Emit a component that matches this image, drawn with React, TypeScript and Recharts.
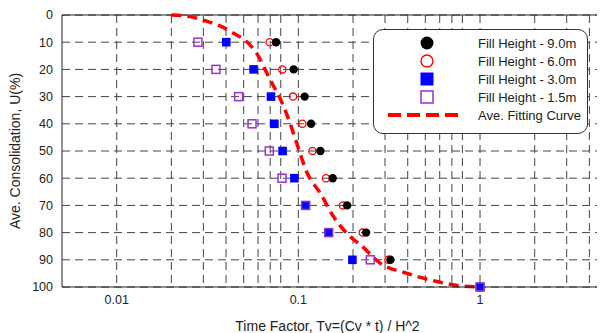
import React from "react";
import {
  ComposedChart,
  Line,
  Scatter,
  XAxis,
  YAxis,
  CartesianGrid,
  ReferenceLine,
  Legend,
} from "recharts";

const FONT = "'Liberation Sans', Arial, sans-serif";

// consolidation levels, U(%)
const uLevels = [10, 20, 30, 40, 50, 60, 70, 80, 90, 100];

// Tv read for each level, per fill height
const tv90 = [0.0754, 0.0942, 0.1083, 0.1175, 0.1322, 0.1545, 0.1855, 0.236, 0.321, 1.0];
const tv60 = [0.0695, 0.0816, 0.0935, 0.1052, 0.1195, 0.142, 0.176, 0.226, 0.313, 1.0];
const tv30 = [0.0401, 0.0567, 0.0707, 0.0738, 0.0819, 0.0951, 0.1097, 0.1469, 0.1984, 1.0];
const tv15 = [0.028, 0.0352, 0.0469, 0.0556, 0.0692, 0.0813, 0.1097, 0.1469, 0.249, 1.0];

// average fitting curve
const curveTv = [0.02, 0.0254, 0.031, 0.037, 0.044, 0.052, 0.059, 0.07, 0.08, 0.09, 0.098, 0.112, 0.132, 0.156, 0.193, 0.22, 0.283, 0.397, 0.58, 0.78, 1.0];
const curveU = [0, 0.6, 2.2, 4, 6.7, 9.8, 14.1, 23.9, 31.2, 39.8, 47.2, 58.2, 65.5, 74.1, 81.5, 84.5, 91.3, 95, 98, 99.6, 100];

const xTicks = [
  0.01, 0.02, 0.03, 0.04, 0.05, 0.06, 0.07, 0.08, 0.09,
  0.1, 0.2, 0.3, 0.4, 0.5, 0.6, 0.7, 0.8, 0.9,
  1, 2, 3, 4,
];
const xLabels = [0.01, 0.1, 1];
const yTicks = [0, 10, 20, 30, 40, 50, 60, 70, 80, 90, 100];

const toPoints = (tv: number[]) => tv.map((t, i) => ({ tv: t, u: uLevels[i] }));
const curve = curveTv.map((t, i) => ({ tv: t, u: curveU[i] }));

const PURPLE = "#9b2fd0";

const BlackDot = (p: any) => <circle cx={p.cx} cy={p.cy} r={4.2} fill="#000" />;
const RedRing = (p: any) => (
  <circle cx={p.cx} cy={p.cy} r={3.6} fill="none" stroke="#ff0000" strokeWidth={1.3} />
);
const BlueSquare = (p: any) => (
  <rect x={p.cx - 4.3} y={p.cy - 4.3} width={8.6} height={8.6} fill="#0000ff" />
);
const PurpleSquare = (p: any) => (
  <rect x={p.cx - 4} y={p.cy - 4} width={8} height={8} fill="none" stroke={PURPLE} strokeWidth={1.5} />
);

const legendRows = [
  { label: "Fill Height - 9.0m", kind: "black" },
  { label: "Fill Height - 6.0m", kind: "red" },
  { label: "Fill Height - 3.0m", kind: "blue" },
  { label: "Fill Height - 1.5m", kind: "purple" },
  { label: "Ave. Fitting Curve", kind: "line" },
];

const marker = (kind: string) => {
  if (kind === "black") return <circle cx={53} cy={9} r={6.5} fill="#000" />;
  if (kind === "red") return <circle cx={53} cy={9} r={6} fill="#fff" stroke="#ff0000" strokeWidth={1.4} />;
  if (kind === "blue") return <rect x={46.5} y={2.5} width={13} height={13} fill="#0000ff" />;
  if (kind === "purple")
    return <rect x={47} y={3} width={12} height={12} fill="#fff" stroke={PURPLE} strokeWidth={1.5} />;
  return <line x1={14} y1={9} x2={86} y2={9} stroke="#ff0000" strokeWidth={4} strokeDasharray="13 6" />;
};

const LegendBox = () => (
  <div
    style={{
      width: 213,
      height: 99,
      border: "1px solid #333",
      borderRadius: 10,
      background: "#fff",
      paddingTop: 4,
      boxSizing: "content-box",
      fontFamily: FONT,
      fontSize: 13,
      color: "#222",
    }}
  >
    {legendRows.map((r) => (
      <div key={r.label} style={{ display: "flex", alignItems: "center", height: 18 }}>
        <svg width={104} height={18}>{marker(r.kind)}</svg>
        <span>{r.label}</span>
      </div>
    ))}
  </div>
);

export default function App() {
  return (
    <div style={{ margin: "-8px 0 0 -8px", width: 605, height: 333, overflow: "hidden" }}>
      <ComposedChart
        width={617}
        height={333}
        margin={{ top: 15, right: 10, bottom: 0, left: 0 }}
        style={{ fontFamily: FONT }}
      >
        <CartesianGrid
          stroke="#444"
          strokeDasharray="8 5"
          horizontalValues={yTicks}
          verticalValues={xTicks}
        />
        <XAxis
          dataKey="tv"
          type="number"
          scale="log"
          domain={[0.005, 5]}
          ticks={xTicks}
          allowDataOverflow
          tickFormatter={(v: number) => (xLabels.includes(v) ? String(v) : "")}
          tickLine={false}
          tick={{ fill: "#222", fontSize: 12.5 }}
          axisLine={{ stroke: "#222" }}
          height={46}
          label={{
            value: "Time Factor, Tv=(Cv * t) / H^2",
            position: "insideBottom",
            offset: 2,
            dx: -7,
            fill: "#222",
            fontSize: 14,
          }}
        />
        <YAxis
          dataKey="u"
          type="number"
          domain={[0, 100]}
          reversed
          ticks={yTicks}
          tickLine={false}
          tickSize={7}
          tick={{ fill: "#222", fontSize: 12.5 }}
          axisLine={{ stroke: "#222" }}
          width={62}
          label={{
            value: "Ave. Consolidation, U(%)",
            angle: -90,
            position: "center",
            dx: -16,
            fill: "#222",
            fontSize: 14,
          }}
        />
        <ReferenceLine y={0} stroke="#222" />
        <Line
          data={curve}
          dataKey="u"
          type="monotone"
          stroke="#ff0000"
          strokeWidth={3.5}
          strokeDasharray="10 6"
          dot={false}
          isAnimationActive={false}
        />
        <Scatter data={toPoints(tv60)} shape={RedRing} isAnimationActive={false} />
        <Scatter data={toPoints(tv90)} shape={BlackDot} isAnimationActive={false} />
        <Scatter data={toPoints(tv30)} shape={BlueSquare} isAnimationActive={false} />
        <Scatter data={toPoints(tv15)} shape={PurpleSquare} isAnimationActive={false} />
        <Legend
          layout="vertical"
          align="center"
          verticalAlign="middle"
          wrapperStyle={{ position: "absolute", left: 373, top: 29, width: "auto", height: "auto" }}
          content={() => <LegendBox />}
        />
      </ComposedChart>
    </div>
  );
}
